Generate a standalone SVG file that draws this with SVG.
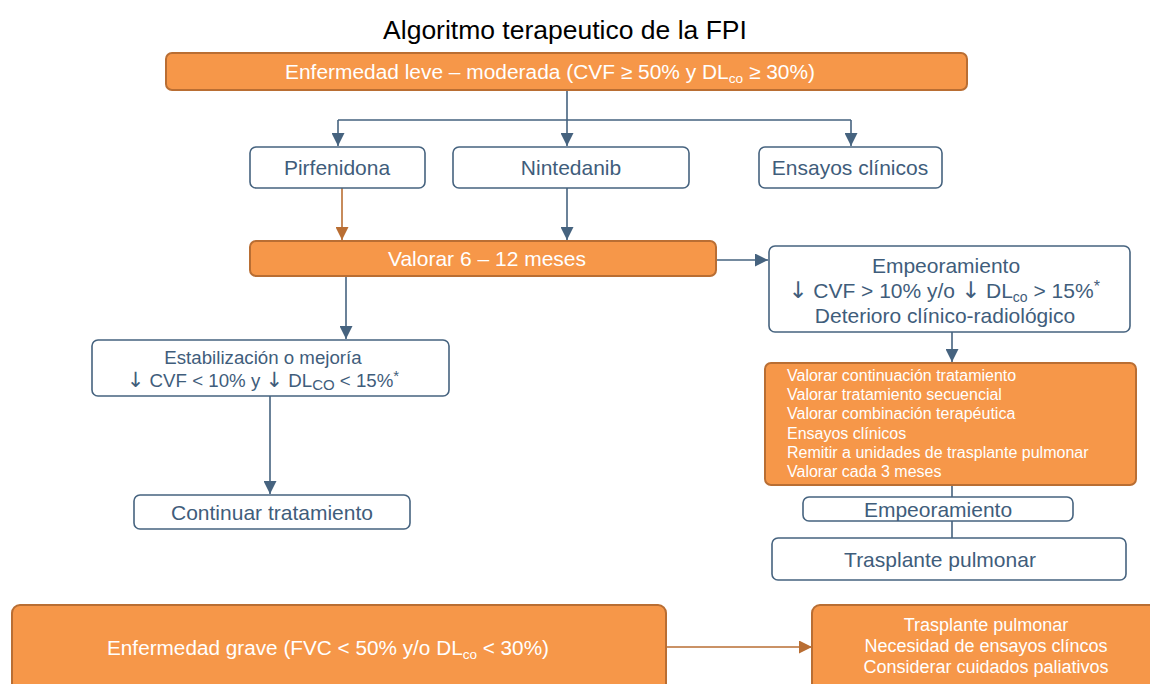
<svg xmlns="http://www.w3.org/2000/svg" width="1150" height="684" viewBox="0 0 1150 684">
<defs>
<style>
.t{font-family:"Liberation Sans",Arial,sans-serif}
.ob{fill:#F69749;stroke:#B96E33;stroke-width:2}
.wb{fill:#FFFFFF;stroke:#46637F;stroke-width:1.6}
.wt{fill:#FFFFFF}
.bt{fill:#3F5D7B}
.ar{font-family:"DejaVu Sans",sans-serif;fill:#3F5D7B}
.cb{stroke:#46637F;stroke-width:1.6;fill:none}
.co{stroke:#B96E33;stroke-width:1.6;fill:none}
</style>
<marker id="ab" viewBox="0 0 10 10" refX="10" refY="5" markerWidth="14" markerHeight="13" markerUnits="userSpaceOnUse" orient="auto"><path d="M0,0L10,5L0,10z" fill="#46637F"/></marker>
<marker id="ao" viewBox="0 0 10 10" refX="10" refY="5" markerWidth="14" markerHeight="13" markerUnits="userSpaceOnUse" orient="auto"><path d="M0,0L10,5L0,10z" fill="#B96E33"/></marker>
</defs>
<rect width="1150" height="684" fill="#FFFFFF"/>
<text class="t" x="565" y="39" font-size="26.5" text-anchor="middle" fill="#000">Algoritmo terapeutico de la FPI</text>

<g id="connectors">
<path class="cb" d="M567,90V120M338,120H851"/>
<path class="cb" d="M338,120V146" marker-end="url(#ab)"/>
<path class="cb" d="M567,120V146" marker-end="url(#ab)"/>
<path class="cb" d="M851,120V146" marker-end="url(#ab)"/>
<path class="co" d="M342,188V240" marker-end="url(#ao)"/>
<path class="cb" d="M567,188V240" marker-end="url(#ab)"/>
<path class="cb" d="M716,260H768" marker-end="url(#ab)"/>
<path class="cb" d="M346,276V339" marker-end="url(#ab)"/>
<path class="cb" d="M270,396V494" marker-end="url(#ab)"/>
<path class="cb" d="M952,332V362" marker-end="url(#ab)"/>
<path class="cb" d="M952,485V497M952,521V538"/>
<path class="co" d="M666,647H812" marker-end="url(#ao)"/>
</g>

<g id="n-leve">
<rect class="ob" x="166" y="53" width="801" height="37" rx="6"/>
<text class="t wt" x="550" y="79" font-size="20" text-anchor="middle" textLength="530" lengthAdjust="spacingAndGlyphs">Enfermedad leve – moderada (CVF ≥ 50% y DL<tspan font-size="13" dy="4">co</tspan><tspan dy="-4"> ≥ 30%)</tspan></text>
</g>
<g id="n-pirf">
<rect class="wb" x="250" y="147" width="175" height="41" rx="6"/>
<text class="t bt" x="337" y="175" font-size="21" text-anchor="middle">Pirfenidona</text>
</g>
<g id="n-ninte">
<rect class="wb" x="453" y="147" width="236" height="41" rx="6"/>
<text class="t bt" x="571" y="175" font-size="21" text-anchor="middle">Nintedanib</text>
</g>
<g id="n-ensayos">
<rect class="wb" x="759" y="147" width="183" height="41" rx="6"/>
<text class="t bt" x="850" y="175" font-size="21" text-anchor="middle">Ensayos clínicos</text>
</g>
<g id="n-valorar">
<rect class="ob" x="250" y="241" width="466" height="35" rx="6"/>
<text class="t wt" x="487" y="266" font-size="21" text-anchor="middle">Valorar 6 – 12 meses</text>
</g>
<g id="n-empeor">
<rect class="wb" x="769" y="246" width="361" height="86" rx="6"/>
<text class="t bt" x="946" y="273" font-size="21" text-anchor="middle">Empeoramiento</text>
<text class="t bt" x="944" y="298" font-size="21" text-anchor="middle"><tspan class="ar" font-size="23">↓</tspan> CVF &gt; 10% y/o <tspan class="ar" font-size="23">↓</tspan> DL<tspan font-size="14" dy="4">co</tspan><tspan dy="-4"> &gt; 15%</tspan><tspan font-size="16" dy="-6">*</tspan></text>
<text class="t bt" x="945" y="323" font-size="21" text-anchor="middle">Deterioro clínico-radiológico</text>
</g>
<g id="n-estab">
<rect class="wb" x="92" y="340" width="357" height="56" rx="6"/>
<text class="t bt" x="263" y="364" font-size="18.7" text-anchor="middle">Estabilización o mejoría</text>
<text class="t bt" x="263" y="387" font-size="18.7" text-anchor="middle"><tspan class="ar" font-size="21">↓</tspan> CVF &lt; 10% y <tspan class="ar" font-size="21">↓</tspan> DL<tspan font-size="15" dy="3">CO</tspan><tspan dy="-3"> &lt; 15%</tspan><tspan font-size="15" dy="-6">*</tspan></text>
</g>
<g id="n-continuar">
<rect class="wb" x="134" y="495" width="276" height="34" rx="6"/>
<text class="t bt" x="272" y="520" font-size="21" text-anchor="middle">Continuar tratamiento</text>
</g>
<g id="n-lista">
<rect class="ob" x="765" y="363" width="371" height="122" rx="6"/>
<g class="t wt" font-size="16">
<text x="787" y="381">Valorar continuación tratamiento</text>
<text x="787" y="400">Valorar tratamiento secuencial</text>
<text x="787" y="419">Valorar combinación terapéutica</text>
<text x="787" y="439">Ensayos clínicos</text>
<text x="787" y="458">Remitir a unidades de trasplante pulmonar</text>
<text x="787" y="477">Valorar cada 3 meses</text>
</g>
</g>
<g id="n-empeor2">
<rect class="wb" x="803" y="497" width="270" height="24" rx="6"/>
<text class="t bt" x="938" y="517" font-size="21" text-anchor="middle">Empeoramiento</text>
</g>
<g id="n-traspl">
<rect class="wb" x="772" y="538" width="354" height="42" rx="6"/>
<text class="t bt" x="940" y="567" font-size="21" text-anchor="middle">Trasplante pulmonar</text>
</g>
<g id="n-grave">
<rect class="ob" x="12" y="605" width="654" height="90" rx="8"/>
<text class="t wt" x="328" y="655" font-size="20" text-anchor="middle" textLength="442" lengthAdjust="spacingAndGlyphs">Enfermedad grave (FVC &lt; 50% y/o DL<tspan font-size="13" dy="4">co</tspan><tspan dy="-4"> &lt; 30%)</tspan></text>
</g>
<g id="n-opciones">
<rect class="ob" x="812" y="605" width="350" height="90" rx="8"/>
<text class="t wt" x="986" y="631" font-size="18" text-anchor="middle">Trasplante pulmonar</text>
<text class="t wt" x="986" y="652" font-size="18" text-anchor="middle">Necesidad de ensayos clíncos</text>
<text class="t wt" x="986" y="673" font-size="18" text-anchor="middle">Considerar cuidados paliativos</text>
</g>
</svg>
